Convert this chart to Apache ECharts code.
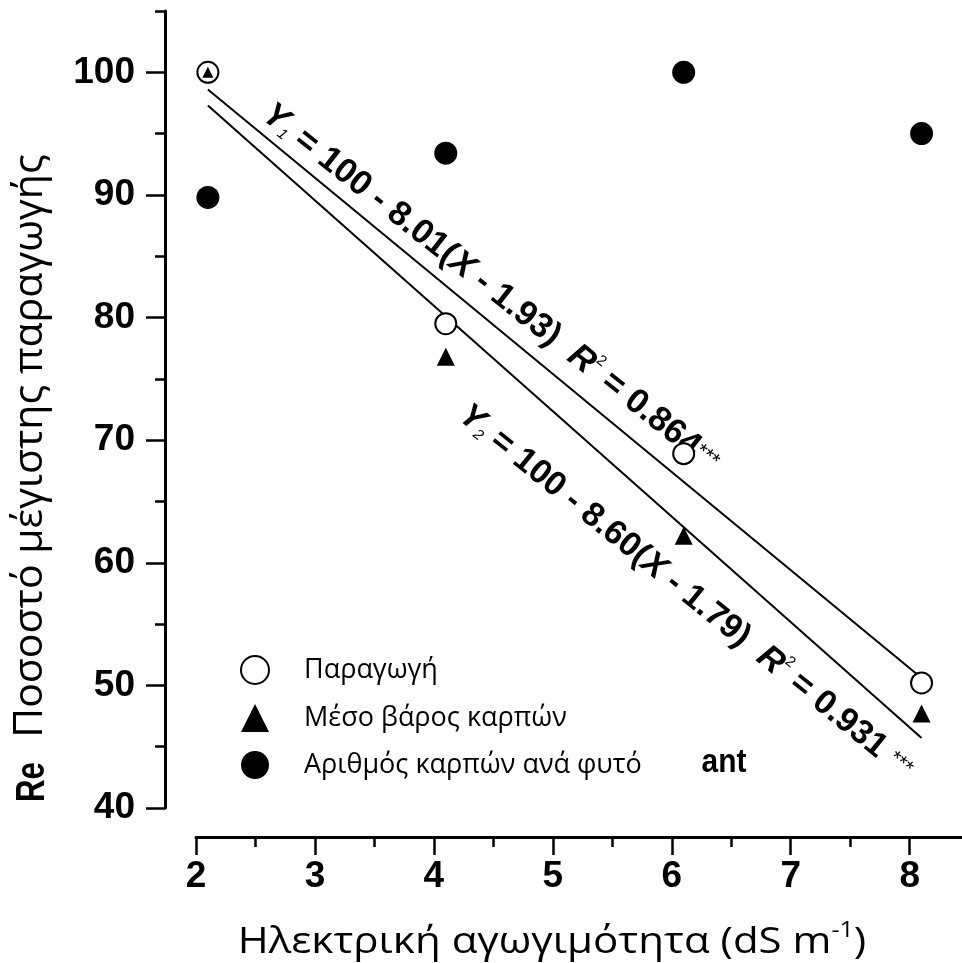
<!DOCTYPE html>
<html><head><meta charset="utf-8">
<script src="https://cdn.jsdelivr.net/npm/echarts@6/dist/echarts.min.js"></script>
<style>html,body{margin:0;padding:0;background:#fff}#c{width:962px;height:963px}</style>
</head><body><div id="c"></div>
<script>
// ---- data ----
const seriesNames = ['Παραγωγή', 'Μέσο βάρος καρπών', 'Αριθμός καρπών ανά φυτό'];
const xValues = [2.1, 4.1, 6.1, 8.1];
const yieldPct = [100, 79.5, 68.9, 50.2];
const fruitWeightPct = [100, 76.8, 62.2, 47.7];
const fruitNumberPct = [89.8, 93.4, 100, 95.0];
const fit1 = [[2.1, 98.6], [8.1, 50.6]];
const fit2 = [[2.1, 97.3], [8.1, 45.7]];
const xTicks = [2, 3, 4, 5, 6, 7, 8];
const xMinorTicks = [2.5, 3.5, 4.5, 5.5, 6.5, 7.5];
const yTicks = [40, 50, 60, 70, 80, 90, 100];
const yMinorTicks = [45, 55, 65, 75, 85, 95, 105];
const xTitle = ['Ηλεκτρική αγωγιμότητα (dS m', '-1', ')'];
const yTitle = ['Re', 'Ποσοστό μέγιστης παραγωγής'];
const eq1Parts = ['Y', '1', ' = 100 - 8.01(', 'X', ' - 1.93)  ', 'R', '2', ' = 0.864', '***'];
const eq2Parts = ['Y', '2', ' = 100 - 8.60(', 'X', ' - 1.79)  ', 'R', '2', ' = 0.931 ', '***'];
const strayText = 'ant';

const pair = (ys) => xValues.map((x, i) => [x, ys[i]]);

const chart = echarts.init(document.getElementById('c'), null, {renderer: 'canvas'});
const tickFont = {fontFamily: 'Liberation Sans', fontWeight: 'bold', fontSize: 37, color: '#000'};
const AX = {lineStyle: {color: '#000', width: 3}};

function eqRich(size) {
  return {
    b: {fontFamily: 'Liberation Sans', fontWeight: 'bold', fontSize: size, fill: '#000'},
    i: {fontFamily: 'Liberation Sans', fontWeight: 'bold', fontStyle: 'italic', fontSize: size, fill: '#000'},
    sub: {fontFamily: 'Liberation Sans', fontStyle: 'italic', fontSize: 15, fill: '#000', padding: [18, 0, 0, 0]},
    sup: {fontFamily: 'Liberation Sans', fontSize: 15, fill: '#000', padding: [0, 0, 22, 0]},
    st: {fontFamily: 'Liberation Sans', fontSize: 21, fill: '#000', padding: [0, 0, 4, 0]}
  };
}
function eqText(p) {
  return '{i|' + p[0] + '}{sub|' + p[1] + '}{b|' + p[2] + '}{i|' + p[3] + '}{b|' + p[4] + '}{i|' + p[5] + '}{sup|' + p[6] + '}{b|' + p[7] + '}{st|' + p[8] + '}';
}

const option = {
  backgroundColor: '#fff',
  animation: false,
  grid: {left: 196, right: 0, top: 11, bottom: 155, containLabel: false},
  legend: {
    orient: 'vertical', left: 235, top: 650, itemWidth: 28, itemHeight: 28, itemGap: 19,
    textStyle: {fontFamily: 'Open Sans', fontSize: 27, color: '#000', padding: [0, 0, 0, 30]},
    data: seriesNames
  },
  xAxis: [{
    type: 'value', min: 2, max: 8.44, position: 'bottom', offset: 29,
    axisLine: AX,
    axisTick: {customValues: xTicks, length: 18, lineStyle: {color: '#000', width: 2.5}},
    axisLabel: Object.assign({customValues: xTicks, margin: 21}, tickFont),
    splitLine: {show: false}
  }, {
    type: 'value', min: 2, max: 8.44, position: 'bottom', offset: 29,
    axisLine: {show: false},
    axisTick: {customValues: xMinorTicks, length: 10, lineStyle: {color: '#000', width: 2.5}},
    axisLabel: {show: false},
    splitLine: {show: false}
  }],
  yAxis: [{
    type: 'value', min: 40, max: 105, position: 'left', offset: 31,
    axisLine: Object.assign({show: true}, AX),
    axisTick: {show: true, customValues: yTicks, length: 19, lineStyle: {color: '#000', width: 2.5}},
    axisLabel: Object.assign({customValues: yTicks, margin: 30}, tickFont),
    splitLine: {show: false}
  }, {
    type: 'value', min: 40, max: 105, position: 'left', offset: 31,
    axisLine: {show: false},
    axisTick: {show: true, customValues: yMinorTicks, length: 10, lineStyle: {color: '#000', width: 2.5}},
    axisLabel: {show: false},
    splitLine: {show: false}
  }],
  series: [
    {type: 'line', data: fit1, symbol: 'none', lineStyle: {color: '#000', width: 2}, silent: true, z: 1},
    {type: 'line', data: fit2, symbol: 'none', lineStyle: {color: '#000', width: 2}, silent: true, z: 1},
    {name: seriesNames[0], type: 'scatter', data: pair(yieldPct), symbol: 'circle', symbolSize: 21,
      itemStyle: {color: '#fff', borderColor: '#000', borderWidth: 2, opacity: 1}, z: 3},
    {name: seriesNames[1], type: 'scatter', data: pair(fruitWeightPct), symbol: 'triangle',
      symbolSize: (v, p) => p.dataIndex === 0 ? 11 : 18,
      itemStyle: {color: '#000', opacity: 1}, z: 4},
    {name: seriesNames[2], type: 'scatter', data: pair(fruitNumberPct), symbol: 'circle', symbolSize: 23,
      itemStyle: {color: '#000', opacity: 1}, z: 3}
  ],
  graphic: [
    {type: 'text', x: 552, y: 942, scaleX: 1.136, style: {
      text: '{a|' + xTitle[0] + '}{s|' + xTitle[1] + '}{a|' + xTitle[2] + '}',
      align: 'center', verticalAlign: 'middle',
      rich: {a: {fontFamily: 'Open Sans', fontSize: 37, fill: '#000'},
             s: {fontFamily: 'Open Sans', fontSize: 22, fill: '#000', padding: [0, 0, 22, 0]}}
    }},
    {type: 'text', x: 33, y: 782, rotation: Math.PI / 2, scaleX: 0.78, style: {
      text: yTitle[0], align: 'center', verticalAlign: 'middle',
      font: 'bold 40px "Liberation Sans"', fill: '#000'
    }},
    {type: 'text', x: 31, y: 446, rotation: Math.PI / 2, scaleX: 1.024, style: {
      text: yTitle[1], align: 'center', verticalAlign: 'middle',
      font: '40px "Open Sans"', fill: '#000'
    }},
    {type: 'text', x: 491, y: 288, rotation: -38.3 * Math.PI / 180, style: {
      text: eqText(eq1Parts), align: 'center', verticalAlign: 'middle', rich: eqRich(34.5)
    }},
    {type: 'text', x: 686, y: 592, rotation: -39 * Math.PI / 180, style: {
      text: eqText(eq2Parts), align: 'center', verticalAlign: 'middle', rich: eqRich(34)
    }},
    {type: 'text', x: 724, y: 763, scaleX: 0.88, style: {
      text: strayText, align: 'center', verticalAlign: 'middle',
      font: 'bold 34px "Liberation Sans"', fill: '#000'
    }}
  ]
};
chart.setOption(option);
</script></body></html>
